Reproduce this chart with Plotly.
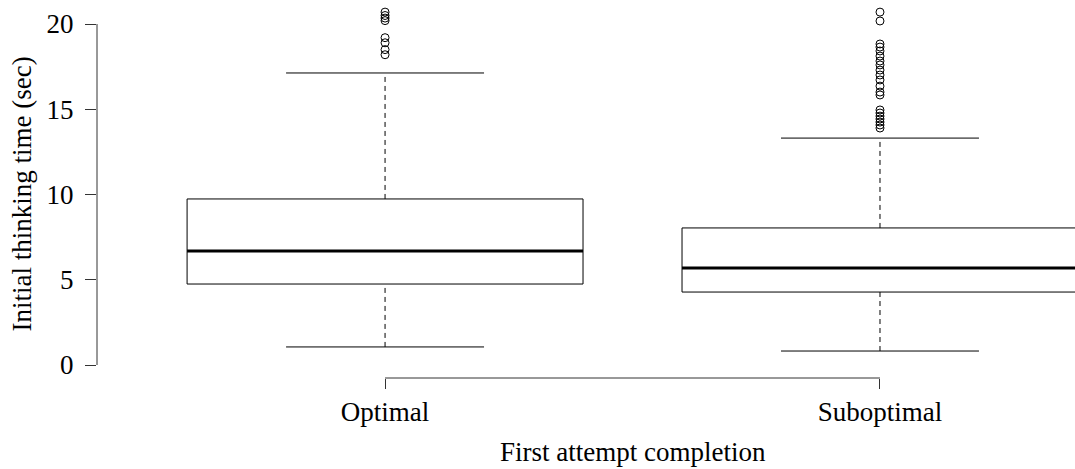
import plotly.graph_objects as go

categories = ["Optimal", "Suboptimal"]
positions = [1, 2]
lower_whisker = [1.06, 0.82]
q1 = [4.75, 4.28]
median = [6.69, 5.69]
q3 = [9.74, 8.04]
upper_whisker = [17.13, 13.31]
outliers = [
    [20.70, 20.50, 20.35, 20.20, 19.20, 18.90, 18.50, 18.20],
    [20.70, 20.18, 18.83, 18.65, 18.42, 18.12, 17.83, 17.60, 17.30, 17.01,
     16.72, 16.36, 16.01, 15.84, 14.96, 14.78, 14.60, 14.43, 14.25, 14.08, 13.90],
]
y_ticks = [0, 5, 10, 15, 20]

FONT = "Liberation Serif, Times New Roman, serif"
BOX_HALF = 0.4
CAP_HALF = 0.2
AXIS_COLOR = "#333333"

fig = go.Figure()
for i, p in enumerate(positions):
    # box
    fig.add_trace(go.Scatter(
        x=[p - BOX_HALF, p + BOX_HALF, p + BOX_HALF, p - BOX_HALF, p - BOX_HALF],
        y=[q1[i], q1[i], q3[i], q3[i], q1[i]],
        mode="lines", line=dict(color="black", width=1), hoverinfo="skip"))
    # median
    fig.add_trace(go.Scatter(
        x=[p - BOX_HALF, p + BOX_HALF], y=[median[i], median[i]],
        mode="lines", line=dict(color="black", width=3), hoverinfo="skip"))
    # whiskers
    fig.add_trace(go.Scatter(
        x=[p, p, None, p, p],
        y=[q3[i], upper_whisker[i], None, lower_whisker[i], q1[i]],
        mode="lines", line=dict(color="black", width=1, dash="5px,4px"), hoverinfo="skip"))
    # caps
    fig.add_trace(go.Scatter(
        x=[p - CAP_HALF, p + CAP_HALF, None, p - CAP_HALF, p + CAP_HALF],
        y=[upper_whisker[i], upper_whisker[i], None, lower_whisker[i], lower_whisker[i]],
        mode="lines", line=dict(color="black", width=1), hoverinfo="skip"))
    # outliers
    fig.add_trace(go.Scatter(
        x=[p] * len(outliers[i]), y=outliers[i], mode="markers",
        marker=dict(symbol="circle-open", size=8, color="black", line=dict(width=1)),
        hoverinfo="skip"))

# axis lines in R style
fig.add_shape(type="line", xref="paper", yref="y", x0=0, x1=0,
              y0=y_ticks[0], y1=y_ticks[-1], line=dict(color=AXIS_COLOR, width=1))
fig.add_shape(type="line", xref="x", yref="paper", x0=positions[0], x1=positions[-1],
              y0=0, y1=0, line=dict(color=AXIS_COLOR, width=1))

fig.add_annotation(text="Initial thinking time (sec)", xref="paper", yref="y",
                   x=0, y=10, xshift=-75, textangle=-90, showarrow=False,
                   xanchor="center", yanchor="middle",
                   font=dict(family=FONT, size=27, color="black"))
fig.add_annotation(text="First attempt completion", xref="x", yref="paper",
                   x=1.5, y=0, yshift=-74, showarrow=False,
                   xanchor="center", yanchor="middle",
                   font=dict(family=FONT, size=27, color="black"))

fig.update_layout(
    width=1075, height=469,
    margin=dict(l=97, r=0, t=0, b=91),
    paper_bgcolor="white", plot_bgcolor="white",
    showlegend=False,
    font=dict(family=FONT, size=27, color="black"),
    xaxis=dict(range=[0.418, 2.394], tickvals=positions, ticktext=categories,
               ticks="outside", ticklen=10, tickcolor=AXIS_COLOR, showline=False,
               showgrid=False, zeroline=False, tickfont=dict(family=FONT, size=27)),
    yaxis=dict(range=[-0.762, 21.41], tickvals=y_ticks, ticks="outside", ticklen=11,
               tickcolor=AXIS_COLOR, showline=False, showgrid=False, zeroline=False,
               tickfont=dict(family=FONT, size=27), ticklabelstandoff=6),
)

fig.write_html("out.html")
